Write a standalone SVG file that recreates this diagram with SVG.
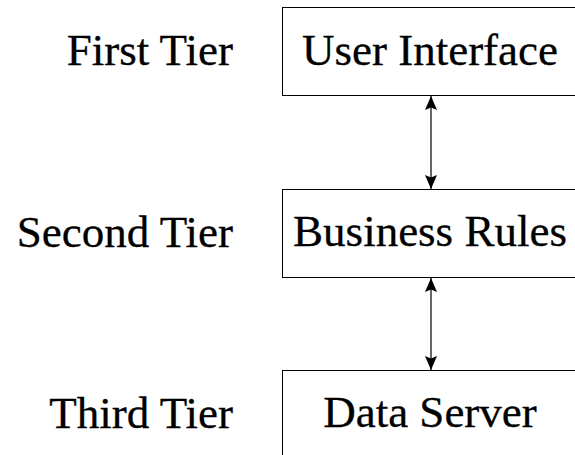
<svg xmlns="http://www.w3.org/2000/svg" width="575" height="455" viewBox="0 0 575 455">
  <style>
    .box { fill: #ffffff; stroke: #000000; stroke-width: 1; }
    .lbl { font-family: "Liberation Serif", "Times New Roman", serif; font-size: 45px; fill: #000000; stroke: #000000; stroke-width: 0.3; }
    .mid { text-anchor: middle; }
    .end { text-anchor: end; }
    .link { stroke: #000000; stroke-width: 1.2; fill: none; marker-start: url(#head); marker-end: url(#head); }
  </style>
  <defs>
    <!-- filled arrowhead with a shallow notch, used at both ends of each link -->
    <marker id="head" viewBox="0 0 14 12" refX="14" refY="6" markerWidth="14" markerHeight="12" markerUnits="userSpaceOnUse" orient="auto-start-reverse">
      <path d="M0,0 L14,6 L0,12 L2.5,6 Z" fill="#000000"/>
    </marker>
  </defs>
  <rect width="575" height="455" fill="#ffffff"/>

  <g id="tier-labels">
    <text class="lbl end" x="233" y="65">First Tier</text>
    <text class="lbl end" x="233" y="247">Second Tier</text>
    <text class="lbl end" x="233" y="428">Third Tier</text>
  </g>

  <g id="user-interface">
    <rect class="box" x="282.5" y="7.5" width="300" height="88"/>
    <text class="lbl mid" x="430" y="65">User Interface</text>
  </g>

  <g id="business-rules">
    <rect class="box" x="282.5" y="189.5" width="300" height="88"/>
    <text class="lbl mid" x="430" y="246">Business Rules</text>
  </g>

  <g id="data-server">
    <rect class="box" x="282.5" y="370.5" width="300" height="100"/>
    <text class="lbl mid" x="430" y="427">Data Server</text>
  </g>

  <g id="connectors">
    <line class="link" x1="431" y1="96" x2="431" y2="189"/>
    <line class="link" x1="431" y1="278" x2="431" y2="370"/>
  </g>
</svg>
